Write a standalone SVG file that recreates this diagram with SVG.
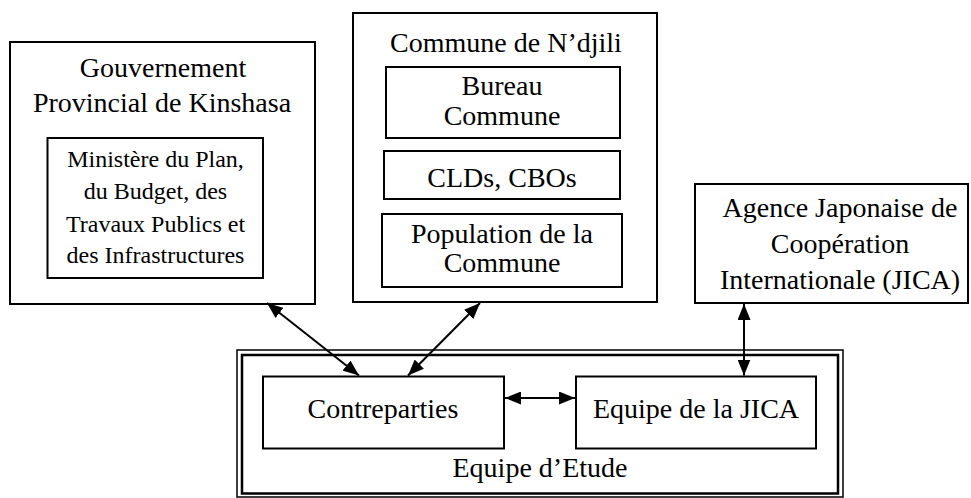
<svg xmlns="http://www.w3.org/2000/svg" width="971" height="498" viewBox="0 0 971 498">
<defs>
<style>
.box{fill:#fff;stroke:#000;stroke-width:2}
.t{font-family:"Liberation Serif","Times New Roman",serif;font-size:28px;fill:#000;text-anchor:middle}
.s{font-size:24px}
.c{stroke:#000;stroke-width:2;fill:none;marker-start:url(#ah);marker-end:url(#ah)}
</style>
<marker id="ah" viewBox="0 0 16 13" refX="16" refY="6.5" markerWidth="16" markerHeight="13" markerUnits="userSpaceOnUse" orient="auto-start-reverse">
<path d="M0,0 L16,6.5 L0,13 z" fill="#000"/>
</marker>
</defs>
<rect width="971" height="498" fill="#fff"/>
<g id="gouvernement">
<rect class="box" x="10" y="42" width="305" height="262"/>
<text class="t" x="163" y="77">Gouvernement</text>
<text class="t" x="162" y="112">Provincial de Kinshasa</text>
</g>
<g id="ministere">
<rect class="box" x="47.5" y="138" width="215.5" height="140"/>
<text class="t s" x="155.5" y="167">Ministère du Plan,</text>
<text class="t s" x="155.5" y="199">du Budget, des</text>
<text class="t s" x="155.5" y="231.5">Travaux Publics et</text>
<text class="t s" x="155.5" y="262.5">des Infrastructures</text>
</g>
<g id="commune">
<rect class="box" x="353" y="13" width="304" height="289"/>
<text class="t" x="506" y="52">Commune de N’djili</text>
</g>
<g id="bureau">
<rect class="box" x="386" y="67" width="234" height="71"/>
<text class="t" x="502" y="95">Bureau</text>
<text class="t" x="502" y="125">Commune</text>
</g>
<g id="clds">
<rect class="box" x="384" y="151" width="236" height="48"/>
<text class="t" x="502" y="187">CLDs, CBOs</text>
</g>
<g id="population">
<rect class="box" x="382" y="214" width="240" height="73"/>
<text class="t" x="502" y="243">Population de la</text>
<text class="t" x="502" y="272">Commune</text>
</g>
<g id="jica">
<rect class="box" x="695" y="184" width="273" height="119"/>
<text class="t" x="840" y="217">Agence Japonaise de</text>
<text class="t" x="840" y="253">Coopération</text>
<text class="t" x="840" y="289">Internationale (JICA)</text>
</g>
<g id="equipe-etude">
<rect x="237" y="350" width="606" height="147" fill="#fff" stroke="#000" stroke-width="1.5"/>
<rect x="242" y="355" width="596" height="138.5" fill="none" stroke="#000" stroke-width="2.5"/>
<text class="t" x="540" y="477">Equipe d’Etude</text>
</g>
<g id="contreparties">
<rect class="box" x="263" y="376.5" width="241" height="72"/>
<text class="t" x="383" y="418">Contreparties</text>
</g>
<g id="equipe-jica">
<rect class="box" x="576" y="376.5" width="240" height="72"/>
<text class="t" x="696" y="418">Equipe de la JICA</text>
</g>
<g id="connectors">
<line class="c" x1="267" y1="303" x2="359" y2="375.5"/>
<line class="c" x1="480" y1="303" x2="408" y2="375.5"/>
<line class="c" x1="505" y1="398" x2="575" y2="398"/>
<line class="c" x1="744" y1="304" x2="744" y2="375.5"/>
</g>
</svg>
